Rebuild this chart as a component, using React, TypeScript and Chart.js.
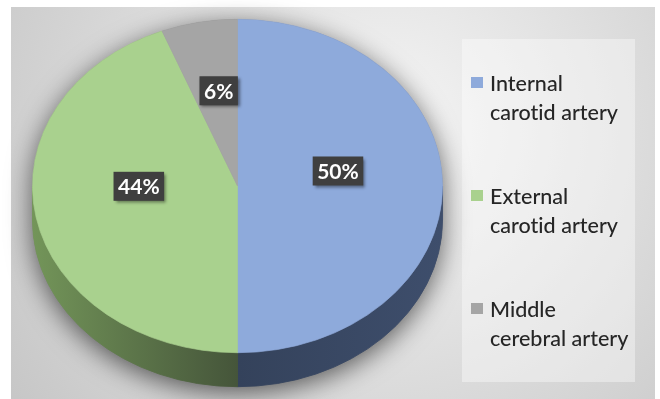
import React, { useEffect, useRef } from "react";
import { Chart, registerables } from "chart.js";

Chart.register(...registerables);

// ---- data ----
const categories: string[][] = [
  ["Internal", "carotid artery"],
  ["External", "carotid artery"],
  ["Middle", "cerebral artery"],
];
const values: number[] = [50, 44, 6];
const topColors: string[] = ["#8eaadb", "#a9d18e", "#a5a5a5"];
const sideLight: string[] = ["#3e4e6c", "#739559", "#7c7c7c"];
const sideDark: string[] = ["#34425b", "#45553a", "#5c5c5c"];

// ---- layout constants ----
const W = 660;
const H = 399;
const X_STRETCH = 1.23;
const DEPTH = 34;
const LABEL_FRACTION = 0.49;
const LABEL_LIFT = 15;

const pie3d = {
  id: "pie3d",
  beforeDraw(chart: any) {
    const ctx: CanvasRenderingContext2D = chart.ctx;
    ctx.save();
    ctx.fillStyle = "#ffffff";
    ctx.fillRect(0, 0, W, H);
    const g = ctx.createRadialGradient(390, 130, 0, 390, 130, 470);
    g.addColorStop(0, "#f5f5f5");
    g.addColorStop(1, "#c6c6c6");
    ctx.fillStyle = g;
    ctx.fillRect(11, 7, 644, 392);
    ctx.fillStyle = "rgba(255,255,255,0.38)";
    ctx.fillRect(462, 39, 173, 343);
    ctx.restore();
  },
  beforeDatasetsDraw(chart: any) {
    const ctx: CanvasRenderingContext2D = chart.ctx;
    const arcs = chart.getDatasetMeta(0).data;
    ctx.save();
    if (!arcs.length) return;
    const p = arcs[0].getProps(["x", "y", "outerRadius"], true);
    const cx = p.x, cy = p.y, r = p.outerRadius;
    ctx.translate(cx, 0);
    ctx.scale(X_STRETCH, 1);
    ctx.translate(-cx, 0);

    // drop shadow of the whole body
    ctx.save();
    ctx.shadowColor = "rgba(0,0,0,0.6)";
    ctx.shadowBlur = 26;
    ctx.shadowOffsetY = 6;
    ctx.beginPath();
    ctx.arc(cx, cy, r, Math.PI, 2 * Math.PI);
    ctx.arc(cx, cy + DEPTH, r, 0, Math.PI);
    ctx.closePath();
    ctx.fillStyle = "#7a7a7a";
    ctx.fill();
    ctx.restore();

    // side walls
    arcs.forEach((arc: any, i: number) => {
      const a = arc.getProps(["startAngle", "endAngle"], true);
      for (let k = -1; k <= 1; k++) {
        const off = k * 2 * Math.PI;
        const a0 = Math.max(a.startAngle, off);
        const a1 = Math.min(a.endAngle, off + Math.PI);
        if (a1 <= a0) continue;
        const grad = ctx.createLinearGradient(cx - r, 0, cx + r, 0);
        grad.addColorStop(0, sideLight[i]);
        grad.addColorStop(0.5, sideDark[i]);
        grad.addColorStop(1, sideLight[i]);
        ctx.beginPath();
        ctx.arc(cx, cy, r, a0, a1);
        ctx.arc(cx, cy + DEPTH, r, a1, a0, true);
        ctx.closePath();
        ctx.fillStyle = grad;
        ctx.fill();
        ctx.strokeStyle = grad;
        ctx.lineWidth = 0.8;
        ctx.stroke();
      }
    });
  },
  afterDatasetsDraw(chart: any) {
    const ctx: CanvasRenderingContext2D = chart.ctx;
    ctx.restore();
    const arcs = chart.getDatasetMeta(0).data;
    const total = values.reduce((s, v) => s + v, 0);

    // data labels
    arcs.forEach((arc: any, i: number) => {
      const a = arc.getProps(["x", "y", "startAngle", "endAngle", "outerRadius"], true);
      const mid = (a.startAngle + a.endAngle) / 2;
      const lx = a.x + Math.cos(mid) * a.outerRadius * LABEL_FRACTION * X_STRETCH;
      const ly = a.y + Math.sin(mid) * a.outerRadius * LABEL_FRACTION - LABEL_LIFT;
      const text = Math.round((values[i] / total) * 100) + "%";
      ctx.save();
      ctx.font = "bold 21px Lato";
      const tw = ctx.measureText(text).width;
      const bw = tw + 9;
      const bh = 29;
      ctx.shadowColor = "rgba(0,0,0,0.45)";
      ctx.shadowBlur = 3;
      ctx.shadowOffsetX = 2;
      ctx.shadowOffsetY = 2;
      ctx.fillStyle = "#3f3f3f";
      ctx.fillRect(lx - bw / 2, ly - bh / 2, bw, bh);
      ctx.shadowColor = "transparent";
      ctx.fillStyle = "#ffffff";
      ctx.textAlign = "center";
      ctx.textBaseline = "middle";
      ctx.fillText(text, lx, ly + 1);
      ctx.restore();
    });

    // legend
    ctx.save();
    ctx.font = "500 21.5px Lato";
    (ctx as any).letterSpacing = "0.01px";
    ctx.textBaseline = "alphabetic";
    ctx.textAlign = "left";
    categories.forEach((lines, i) => {
      const base = 91 + i * 113;
      ctx.fillStyle = topColors[i];
      ctx.fillRect(471, base - 14, 12, 11);
      ctx.fillStyle = "#262626";
      lines.forEach((line, j) => {
        ctx.fillText(line, 490, base + j * 29);
      });
    });
    ctx.restore();
  },
};

export default function App() {
  const ref = useRef<HTMLCanvasElement | null>(null);
  useEffect(() => {
    if (!ref.current) return;
    const chart = new Chart(ref.current, {
      type: "pie",
      data: {
        labels: categories.map((c) => c.join(" ")),
        datasets: [
          {
            data: values,
            backgroundColor: topColors,
            borderColor: topColors,
            borderWidth: 0.6,
            clip: false,
          } as any,
        ],
      },
      options: {
        responsive: false,
        animation: false,
        devicePixelRatio: 1,
        events: [],
        layout: { padding: { top: 19, bottom: 46, left: 70.5, right: 255.5 } },
        plugins: { legend: { display: false }, tooltip: { enabled: false } },
      },
      plugins: [pie3d],
    });
    return () => chart.destroy();
  }, []);
  return (
    <canvas
      ref={ref}
      width={W}
      height={H}
      style={{ position: "fixed", left: 0, top: 0, width: W, height: H }}
    />
  );
}
